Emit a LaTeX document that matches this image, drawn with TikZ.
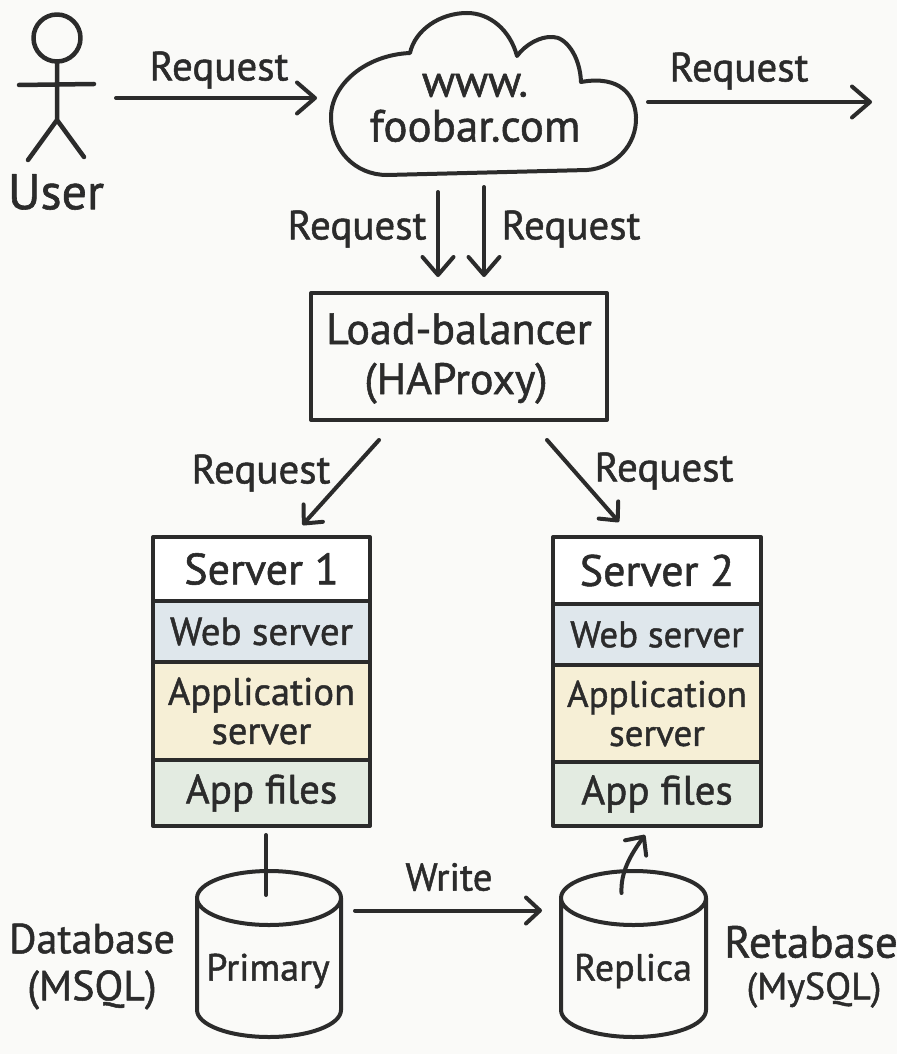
\documentclass[tikz,border=0pt]{standalone}
\usepackage{fontspec}
\setmainfont{PT Sans}[FakeBold=1.2]
\usetikzlibrary{arrows.meta,calc}
\definecolor{bgc}{HTML}{FAFAF8}
\definecolor{ink}{HTML}{2B2B2B}
\definecolor{webc}{HTML}{DFE7EC}
\definecolor{appc}{HTML}{F6EFD6}
\definecolor{filec}{HTML}{E3EBE1}
\newcommand{\fs}[2]{\fontsize{#1}{#2}\selectfont}
\tikzset{
  x=1pt,y=-1pt,
  every path/.append style={line join=round},
  ink line/.style={draw=ink,line width=4pt,line cap=round},
  conn/.style={ink line,-{Straight Barb[length=18pt,width=31pt,round,line width=4pt]}},
  conn small/.style={ink line,-{Straight Barb[length=14pt,width=26pt,round,line width=4pt]}},
  lab/.style={text=ink,font=\fs{41}{48},inner sep=0pt,align=center},
  box/.style={inner sep=0pt,outer sep=0pt},
  layer/.style={draw=ink,line width=4pt,inner sep=0pt,outer sep=0pt,text=ink,align=center,font=\fs{39}{39},anchor=north west},
}
\newcommand{\cyl}[2]{% left x, right x
  \fill[bgc] (#1,898) arc[x radius={(#2-#1)/2},y radius=27,start angle=180,end angle=360]
     -- (#2,1010) arc[x radius={(#2-#1)/2},y radius=27,start angle=0,end angle=180] -- cycle;
  \draw[ink line] (#1,898) arc[x radius={(#2-#1)/2},y radius=27,start angle=180,end angle=-180]
     (#1,898) -- (#1,1010) arc[x radius={(#2-#1)/2},y radius=27,start angle=180,end angle=0] -- (#2,898);
}
\begin{document}
\begin{tikzpicture}
\useasboundingbox (0,0) rectangle (897,1054);
\fill[bgc] (0,0) rectangle (897,1054);
% user
\draw[ink line,line width=4.5pt] (57,38) circle[radius=23.5];
\draw[ink line,line width=4.5pt] (57,62) -- (57,120) (19,85) -- (94,84) (28,160) -- (57,120) -- (84,157);
\node[box,minimum width=76pt,minimum height=160pt] (user) at (57,90) {};
\node[lab,font=\fs{50}{50}] (userlabel) at (56,192) {User};
% cloud
\draw[ink line] (387,175) -- (587,170) .. controls (615,168) and (637,145) .. (636,117)
  .. controls (635,95) and (620,75) .. (581,82) .. controls (580,55) and (565,37) .. (553,37)
  .. controls (540,36) and (525,45) .. (517,56) .. controls (510,30) and (490,13) .. (467,13)
  .. controls (440,13) and (415,30) .. (410,53) .. controls (365,55) and (331,85) .. (331,117)
  .. controls (331,150) and (355,175) .. (387,175) -- cycle;
\node[box,minimum width=304pt,minimum height=170pt] (cloud) at (484,90) {};
\node[lab,font=\fs{45}{45}] (cloudlabel) at (475,108) {www.\\foobar.com};
\coordinate (out) at (872,102);
% load balancer
\node[layer,minimum width=296pt,minimum height=127pt,fill=bgc] (lb) at (311,293) {};
\node[lab,font=\fs{44}{50}] (lblabel) at (459,358.5) {Load-balancer\\(HAProxy)\hspace*{6pt}};
% server 1
\node[layer,minimum width=217pt,minimum height=64pt,fill=white,font=\fs{44}{44}] (s1a) at (153,537) {Server 1};
\node[layer,minimum width=217pt,minimum height=61pt,fill=webc] (s1b) at (153,601) {Web server};
\node[layer,minimum width=217pt,minimum height=98pt,fill=appc,font=\fs{38.5}{39}] (s1c) at (153,662) {Application\\server};
\node[layer,minimum width=217pt,minimum height=66pt,fill=filec,font=\fs{41}{41}] (s1d) at (153,760) {App files};
% server 2
\node[layer,minimum width=208pt,minimum height=67pt,fill=white,font=\fs{44}{44}] (s2a) at (553,537) {Server 2};
\node[layer,minimum width=208pt,minimum height=61pt,fill=webc,font=\fs{37}{37}] (s2b) at (553,604) {Web server};
\node[layer,minimum width=208pt,minimum height=97pt,fill=appc,font=\fs{37}{39}] (s2c) at (553,665) {Application\\server};
\node[layer,minimum width=208pt,minimum height=64pt,fill=filec,font=\fs{41}{41}] (s2d) at (553,762) {App files};
% databases
\cyl{197}{341}
\cyl{561}{706}
\node[box,minimum width=144pt,minimum height=165pt] (primary) at (269,954.5) {};
\node[box,minimum width=145pt,minimum height=165pt] (replica) at (633.5,954.5) {};
\node[lab,font=\fs{38}{38}] (primarylabel) at (268,971) {Primary};
\node[lab,font=\fs{38}{38}] (replicalabel) at (633,971) {Replica};
\node[lab,font=\fs{42}{47}] (dblabel) at (92,966.5) {Database\\(MSQL)};
\node[box,lab,font=\fs{45}{45}] (rblabel) at (811,942) {Retabase};
\node[box,lab,font=\fs{38}{38}] (rblabelb) at (814,990) {(MySQL)};
% labels
\node[lab] (l1) at (219,70) {Request};
\node[lab] (l2) at (739,71) {Request};
\node[lab] (l3) at (357,229) {Request};
\node[lab] (l4) at (571,229) {Request};
\node[lab] (l5) at (261,473) {Request};
\node[lab] (l6) at (664,471) {Request};
\node[lab,font=\fs{39}{39}] (l7) at (449,877) {Write};
% connectors
\draw[conn] ([shift={(21,8)}]user.east) -- ([shift={(-15,8)}]cloud.west);
\draw[conn] ([shift={(12,12)}]cloud.east) -- (out);
\draw[conn] ([shift={(-46,17)}]cloud.south) -- ([shift={(-21,-16)}]lb.north);
\draw[conn] ([shift={(0,12)}]cloud.south) -- ([shift={(25,-16)}]lb.north);
\draw[conn small] ([shift={(-80,20)}]lb.south) -- ([shift={(41,-12)}]s1a.north);
\draw[conn small] ([shift={(88,20)}]lb.south) -- ([shift={(-38,-15)}]s2a.north);
\draw[ink line] ([shift={(4.5,9)}]s1d.south) -- ([shift={(-3,23)}]primary.north);
\draw[conn small] ([shift={(-12,21)}]replica.north) .. controls ([shift={(-13,0)}]replica.north) and ([shift={(-3,-17)}]replica.north) .. ([shift={(-12,9)}]s2d.south);
\draw[conn small] ([shift={(14,-44)}]primary.east) -- ([shift={(-19,-44)}]replica.west);
\end{tikzpicture}
\end{document}
